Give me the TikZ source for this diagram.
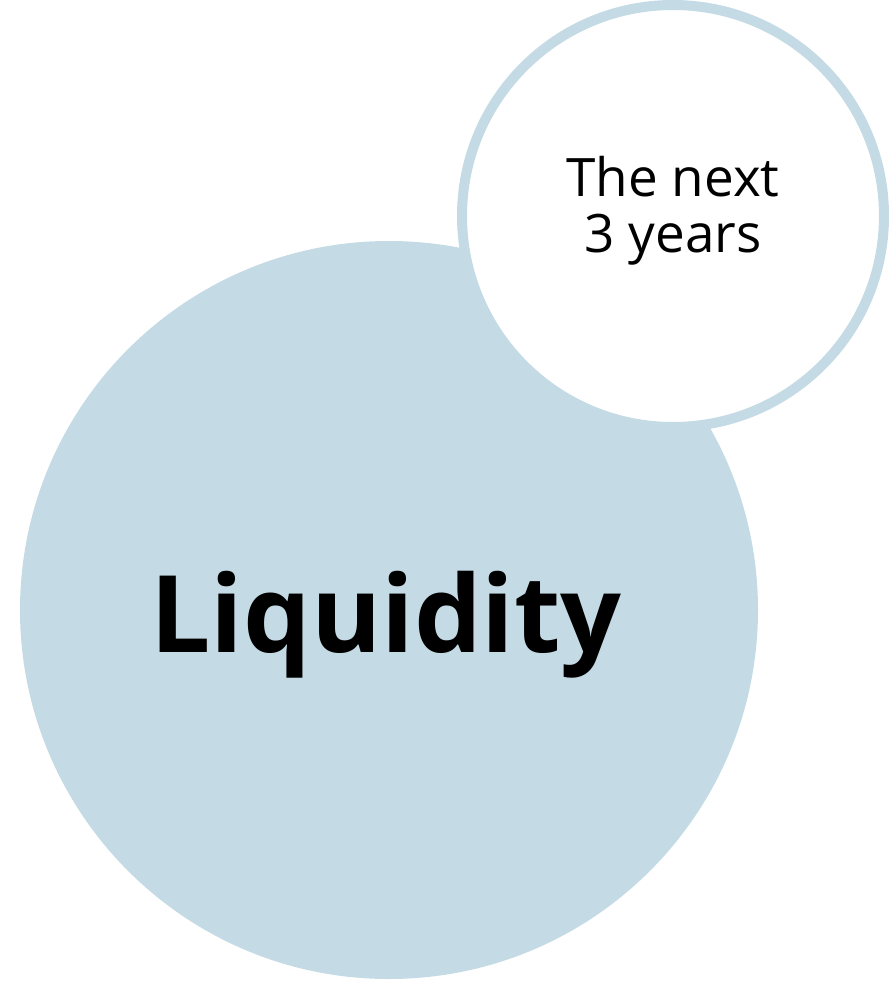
\documentclass[tikz,border=0pt]{standalone}
\usepackage{fontspec}
\setmainfont{Open Sans}
\definecolor{lblue}{HTML}{C4DBE5}
\begin{document}
\begin{tikzpicture}[x=1pt,y=-1pt,
  bigtext/.style={font=\fontsize{107}{107}\selectfont\bfseries, inner sep=0pt, anchor=base},
  smalltext/.style={font=\fontsize{53}{56}\selectfont, inner sep=0pt, align=center}]
\useasboundingbox (0,0) rectangle (890,1001);
\fill[lblue] (389,610) circle[radius=369];
\node[circle, fill=white, draw=lblue, line width=10pt, minimum size=422pt, inner sep=0pt] (small) at (673,216) {};
\node[bigtext] (liq) at (386,652) {Liquidity};
\node[smalltext] (t) at (673,211) {The next\\3 years};
\end{tikzpicture}
\end{document}
